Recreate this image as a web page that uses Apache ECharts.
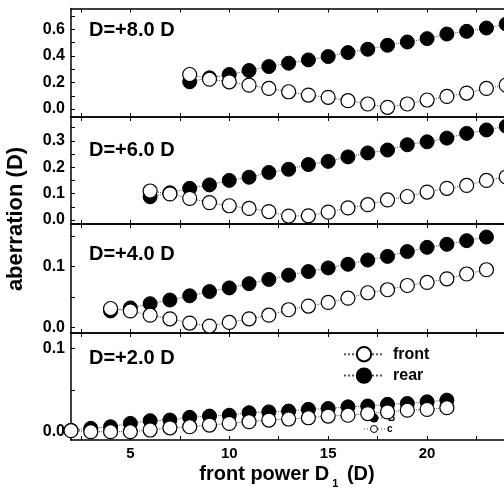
<!DOCTYPE html>
<html>
<head>
<meta charset="utf-8">
<script src="https://cdn.jsdelivr.net/npm/echarts@6/dist/echarts.min.js"></script>
<style>html,body{margin:0;padding:0;background:#fff}#c{width:504px;height:494px}</style>
</head>
<body>
<div id="c"></div>
<script>
// ---- data ----
const x8 = [8,9,10,11,12,13,14,15,16,17,18,19,20,21,22,23,24];
const front8 = [0.26,0.225,0.205,0.18,0.155,0.13,0.105,0.088,0.063,0.038,0.013,0.038,0.068,0.095,0.12,0.155,0.18];
const rear8  = [0.205,0.235,0.26,0.29,0.32,0.345,0.37,0.395,0.425,0.45,0.48,0.505,0.53,0.565,0.585,0.61,0.64];

const x6 = [6,7,8,9,10,11,12,13,14,15,16,17,18,19,20,21,22,23,24];
const front6 = [0.11,0.099,0.082,0.066,0.054,0.044,0.032,0.015,0.016,0.03,0.046,0.058,0.076,0.089,0.106,0.12,0.131,0.15,0.163];
const rear6  = [0.088,0.103,0.12,0.133,0.15,0.162,0.18,0.192,0.21,0.222,0.239,0.254,0.265,0.285,0.296,0.31,0.328,0.341,0.355];

const x4 = [4,5,6,7,8,9,10,11,12,13,14,15,16,17,18,19,20,21,22,23];
const front4 = [0.031,0.027,0.02,0.014,0.007,0.002,0.008,0.014,0.02,0.029,0.035,0.041,0.048,0.057,0.062,0.069,0.074,0.08,0.088,0.095];
const rear4  = [0.027,0.032,0.039,0.045,0.052,0.059,0.065,0.072,0.079,0.086,0.092,0.098,0.104,0.111,0.117,0.125,0.132,0.137,0.143,0.149];

const x2 = [2,3,4,5,6,7,8,9,10,11,12,13,14,15,16,17,18,19,20,21];
const front2 = [0.0016,0.0004,0.0004,0.0004,0.0024,0.005,0.0063,0.0083,0.0103,0.0123,0.0143,0.0155,0.017,0.019,0.020,0.022,0.024,0.026,0.027,0.029];
const rear2  = [0.002,0.0044,0.0063,0.0103,0.0135,0.0143,0.0175,0.019,0.020,0.023,0.024,0.025,0.027,0.028,0.030,0.031,0.033,0.034,0.036,0.038];

const panelLabels = ['D=+8.0 D','D=+6.0 D','D=+4.0 D','D=+2.0 D'];
const yTickLabels = [[0,0.2,0.4,0.6],[0,0.1,0.2,0.3],[0,0.1],[0,0.1]];
const yMinorTicks = [[0.1,0.3,0.5,0.7],[0.05,0.15,0.25,0.35],[0.05,0.15],[0.05]];
const xTickLabels = [5,10,15,20];
const xMinorTicks = [2.5,7.5,12.5,17.5,22.5];
const legendNames = ['front','rear'];

// ---- layout ----
const FONT = '"Liberation Sans", Arial, sans-serif';
const panels = [
  {top:8.5, height:108.5, min:-0.06, max:0.757, xs:x8, f:front8, r:rear8},
  {top:117, height:107, min:-0.015, max:0.39, xs:x6, f:front6, r:rear6},
  {top:224, height:109, min:-0.0094, max:0.1705, xs:x4, f:front4, r:rear4},
  {top:333, height:107, min:-0.0095, max:0.118, xs:x2, f:front2, r:rear2}
];
const labelY = [31, 151, 255, 359];

const grid = [], xAxis = [], yAxis = [], series = [], graphic = [];
const axLine = {show:true, onZero:false, lineStyle:{color:'#000', width:1.5}};
panels.forEach((p,i) => {
  grid.push({left:71, width:455, top:p.top, height:p.height, outerBoundsMode:'none', containLabel:false});
  const isBottom = i === 3;
  xAxis.push({
    type:'value', gridIndex:i, position:'bottom', min:2, max:25,
    axisLine:axLine, splitLine:{show:false},
    axisTick:{show:true, inside:true, length:4, customValues:xTickLabels.concat(xMinorTicks), lineStyle:{color:'#000'}},
    axisLabel:{show:isBottom, customValues:xTickLabels, margin:6, color:'#000', fontFamily:FONT, fontWeight:'bold', fontSize:15}
  });
  xAxis.push({
    type:'value', gridIndex:i, position:'top', min:2, max:25,
    axisLine:axLine, splitLine:{show:false},
    axisTick:{show:true, inside:true, length:4, customValues:xTickLabels.concat(xMinorTicks), lineStyle:{color:'#000'}},
    axisLabel:{show:false}
  });
  yAxis.push({
    type:'value', gridIndex:i, position:'left', min:p.min, max:p.max,
    axisLine:axLine, splitLine:{show:false},
    axisTick:{show:true, inside:true, length:4, customValues:yTickLabels[i].concat(yMinorTicks[i]), lineStyle:{color:'#000'}},
    axisLabel:{customValues:yTickLabels[i], margin:6, color:'#000', fontFamily:FONT, fontWeight:'bold', fontSize:16,
      formatter:v => v.toFixed(1)}
  });
  const common = {type:'line', xAxisIndex:2*i, yAxisIndex:i, symbol:'circle', symbolSize:14,
    lineStyle:{type:'dotted', width:1, color:'#555'}, animation:false};
  series.push(Object.assign({}, common, {name:'rear', data:p.xs.map((x,k)=>[x,p.r[k]]),
    itemStyle:{color:'#000', borderColor:'#000', borderWidth:1}}));
  series.push(Object.assign({}, common, {name:'front', data:p.xs.map((x,k)=>[x,p.f[k]]),
    itemStyle:{color:'#fff', borderColor:'#000', borderWidth:1.2}}));
  graphic.push({type:'text', left:89, top:labelY[i]-11,
    style:{text:panelLabels[i], font:'bold 20px '+FONT, fill:'#000'}});
});

// axis titles
graphic.push({type:'text', x:16, y:219, rotation:Math.PI/2,
  style:{text:'aberration (D)', font:'bold 22px '+FONT, fill:'#000', align:'center', verticalAlign:'middle'}});
graphic.push({type:'text', x:287, y:474,
  style:{text:'{a|front power D}{s|1}{a| (D)}', align:'center', verticalAlign:'middle', fill:'#000',
    rich:{a:{font:'bold 20px '+FONT, verticalAlign:'middle'},
          s:{font:'bold 11px '+FONT, verticalAlign:'bottom', padding:[20,3,0,3]}}}});
// small stray key marks
graphic.push({type:'line', shape:{x1:378,y1:418,x2:386,y2:418}, style:{stroke:'#555', lineWidth:1, lineDash:[1,2]}});
graphic.push({type:'circle', shape:{cx:374, cy:418, r:4.5}, style:{fill:'#000'}});
graphic.push({type:'text', x:388, y:418, style:{text:'B', font:'bold 10px '+FONT, fill:'#000', verticalAlign:'middle'}});
graphic.push({type:'line', shape:{x1:364,y1:429,x2:370,y2:429}, style:{stroke:'#555', lineWidth:1, lineDash:[1,2]}});
graphic.push({type:'line', shape:{x1:378,y1:429,x2:385,y2:429}, style:{stroke:'#555', lineWidth:1, lineDash:[1,2]}});
graphic.push({type:'circle', shape:{cx:374, cy:429, r:3.5}, style:{fill:'#fff', stroke:'#000', lineWidth:1}});
graphic.push({type:'text', x:387, y:429, style:{text:'c', font:'bold 10px '+FONT, fill:'#000', verticalAlign:'middle'}});

const chart = echarts.init(document.getElementById('c'), null, {renderer:'canvas'});
chart.setOption({
  backgroundColor:'#fff',
  animation:false,
  grid, xAxis, yAxis, series, graphic,
  legend:{data:legendNames, orient:'vertical', left:343, top:346, itemWidth:40, itemHeight:18, itemGap:5,
    padding:0, textStyle:{fontFamily:FONT, fontWeight:'bold', fontSize:16, color:'#000', padding:[0,0,0,4]}}
});
</script>
</body>
</html>
